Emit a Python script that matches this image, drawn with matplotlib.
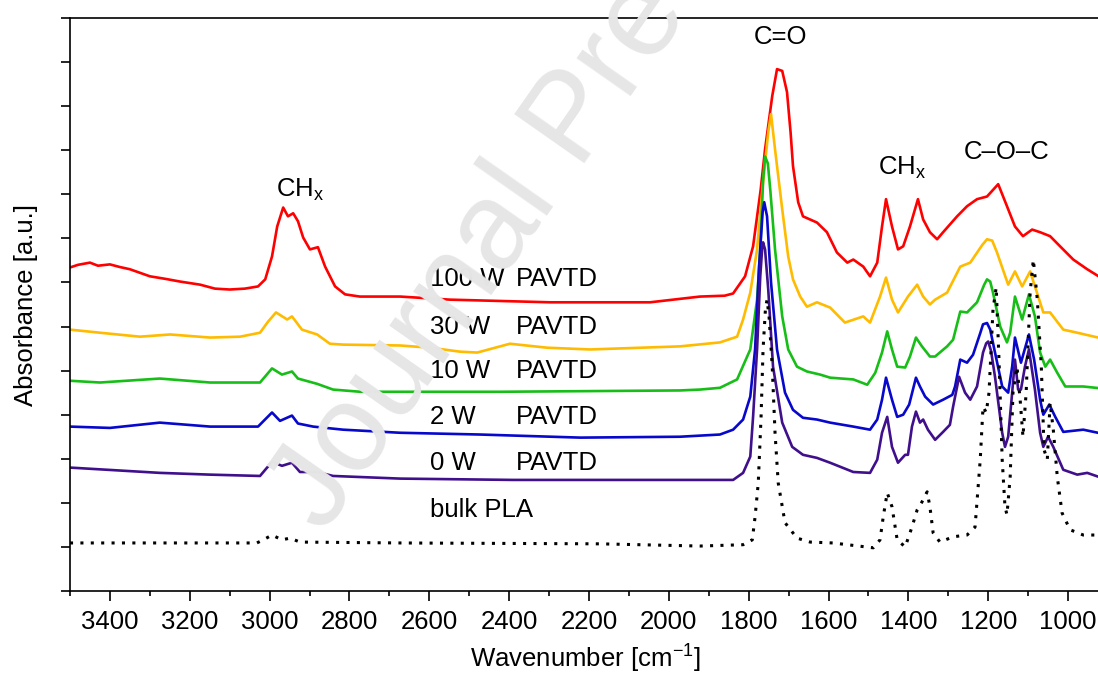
import matplotlib
matplotlib.use("Agg")
import matplotlib.pyplot as plt
from matplotlib.ticker import MultipleLocator

plt.rcParams["font.family"] = ["Liberation Sans", "DejaVu Sans"]
plt.rcParams["mathtext.fontset"] = "custom"
plt.rcParams["mathtext.rm"] = "Liberation Sans"

# ---- spectra (wavenumber in cm-1, absorbance offset in a.u.) ----
wn_100 = [3500, 3480, 3450, 3430, 3400, 3375, 3350, 3300, 3260, 3224, 3174, 3137, 3100,
          3062, 3029, 3011, 2994, 2981, 2966, 2954, 2941, 2929, 2916, 2899, 2879, 2861,
          2836, 2811, 2774, 2673, 2548, 2297, 2047, 1922, 1860, 1839, 1809, 1789, 1770,
          1759, 1741, 1729, 1716, 1704, 1695, 1689, 1676, 1664, 1629, 1604, 1579, 1553,
          1538, 1513, 1496, 1478, 1466, 1456, 1441, 1426, 1413, 1396, 1376, 1363, 1346,
          1328, 1313, 1278, 1253, 1228, 1203, 1175, 1153, 1133, 1113, 1090, 1070, 1045,
          1020, 987, 952, 920]
ab_100 = [7.34, 7.40, 7.45, 7.38, 7.41, 7.35, 7.30, 7.14, 7.08, 7.02, 6.95, 6.86, 6.84,
          6.86, 6.91, 7.07, 7.59, 8.27, 8.70, 8.50, 8.57, 8.39, 8.02, 7.75, 7.80, 7.36,
          6.91, 6.73, 6.68, 6.68, 6.61, 6.55, 6.55, 6.68, 6.70, 6.75, 7.14, 7.82, 9.10,
          10.02, 11.23, 11.84, 11.80, 11.32, 10.40, 9.64, 8.82, 8.50, 8.36, 8.14, 7.68,
          7.45, 7.52, 7.36, 7.14, 7.45, 8.27, 8.89, 8.27, 7.75, 7.82, 8.27, 8.89, 8.43,
          8.14, 7.98, 8.14, 8.50, 8.73, 8.89, 8.95, 9.23, 8.73, 8.27, 8.05, 8.20, 8.14,
          8.05, 7.82, 7.52, 7.30, 7.12]

wn_30 = [3500, 3425, 3325, 3249, 3149, 3074, 3024, 3004, 2984, 2956, 2944, 2919, 2881,
         2849, 2816, 2673, 2598, 2523, 2480, 2398, 2305, 2197, 1972, 1872, 1829, 1814,
         1796, 1779, 1764, 1751, 1744, 1734, 1716, 1701, 1689, 1671, 1654, 1629, 1596,
         1559, 1513, 1496, 1471, 1456, 1441, 1426, 1401, 1378, 1363, 1346, 1333, 1303,
         1270, 1245, 1215, 1203, 1190, 1178, 1150, 1133, 1115, 1095, 1078, 1062, 1045,
         1012, 977, 920]
ab_30 = [5.93, 5.86, 5.77, 5.82, 5.75, 5.77, 5.86, 6.11, 6.32, 6.16, 6.23, 5.93, 5.82,
         5.61, 5.59, 5.57, 5.52, 5.43, 5.41, 5.61, 5.52, 5.48, 5.55, 5.64, 5.77, 6.16,
         6.77, 7.75, 9.27, 10.41, 10.82, 10.02, 8.66, 7.59, 7.07, 6.68, 6.45, 6.55, 6.43,
         6.09, 6.23, 6.09, 6.68, 7.11, 6.61, 6.32, 6.68, 6.95, 6.68, 6.50, 6.61, 6.77,
         7.36, 7.45, 7.85, 7.98, 7.95, 7.68, 6.95, 7.25, 6.91, 7.25, 6.77, 6.32, 6.32,
         5.93, 5.86, 5.74]

wn_10 = [3500, 3425, 3275, 3149, 3024, 2994, 2969, 2944, 2929, 2881, 2841, 2773, 2423,
         1972, 1922, 1872, 1829, 1796, 1779, 1771, 1764, 1759, 1752, 1746, 1734, 1716,
         1701, 1679, 1654, 1621, 1596, 1538, 1503, 1483, 1466, 1453, 1441, 1428, 1408,
         1396, 1381, 1366, 1346, 1333, 1303, 1288, 1270, 1253, 1228, 1210, 1203, 1195,
         1188, 1170, 1153, 1145, 1133, 1115, 1098, 1083, 1070, 1057, 1045, 1027, 1007,
         962, 920]
ab_10 = [4.77, 4.73, 4.82, 4.73, 4.73, 5.05, 4.91, 4.98, 4.82, 4.70, 4.57, 4.52, 4.52,
         4.55, 4.57, 4.61, 4.80, 5.48, 6.61, 7.75, 9.30, 9.86, 9.70, 9.11, 7.75, 6.23,
         5.48, 5.09, 4.98, 4.91, 4.84, 4.80, 4.68, 4.95, 5.41, 5.89, 5.48, 5.09, 5.07,
         5.32, 5.75, 5.55, 5.32, 5.32, 5.55, 5.70, 6.34, 6.32, 6.55, 6.95, 7.07, 7.02,
         6.77, 6.00, 5.64, 5.86, 6.68, 6.16, 6.73, 6.23, 5.41, 5.09, 5.25, 4.95, 4.64,
         4.64, 4.60]

wn_2 = [3500, 3400, 3275, 3149, 3029, 2994, 2974, 2944, 2929, 2891, 2816, 2673, 2473,
        2222, 1972, 1872, 1839, 1814, 1796, 1784, 1774, 1765, 1761, 1754, 1744, 1729,
        1709, 1689, 1664, 1629, 1596, 1538, 1496, 1478, 1466, 1456, 1441, 1428, 1413,
        1398, 1381, 1371, 1358, 1338, 1313, 1290, 1283, 1270, 1253, 1238, 1220, 1213,
        1203, 1195, 1183, 1165, 1150, 1140, 1133, 1118, 1098, 1085, 1070, 1062, 1047,
        1032, 1012, 962, 920]
ab_2 = [3.73, 3.70, 3.82, 3.73, 3.73, 4.05, 3.86, 3.98, 3.80, 3.73, 3.66, 3.59, 3.55,
        3.48, 3.50, 3.55, 3.66, 3.89, 4.41, 5.48, 7.36, 8.60, 8.82, 8.50, 7.00, 5.48,
        4.50, 4.11, 3.93, 3.89, 3.82, 3.73, 3.66, 3.89, 4.34, 4.84, 4.34, 3.95, 4.00,
        4.23, 4.84, 4.64, 4.41, 4.23, 4.34, 4.45, 4.64, 5.25, 5.18, 5.36, 5.85, 6.05,
        6.08, 5.93, 5.41, 4.64, 4.50, 5.09, 5.75, 5.18, 5.82, 5.25, 4.34, 4.00, 4.23,
        3.95, 3.61, 3.66, 3.58]

wn_0 = [3500, 3275, 3149, 3024, 3011, 2994, 2969, 2944, 2924, 2881, 2841, 2673, 2390,
        1922, 1839, 1814, 1796, 1789, 1779, 1771, 1766, 1764, 1759, 1751, 1739, 1716,
        1691, 1664, 1629, 1596, 1538, 1496, 1478, 1466, 1453, 1441, 1426, 1408, 1401,
        1391, 1381, 1371, 1363, 1351, 1333, 1313, 1296, 1288, 1273, 1258, 1245, 1228,
        1213, 1205, 1200, 1193, 1183, 1165, 1158, 1150, 1140, 1133, 1125, 1118, 1108,
        1098, 1083, 1070, 1062, 1050, 1037, 1012, 977, 952, 920]
ab_0 = [2.80, 2.68, 2.64, 2.61, 2.75, 2.93, 2.84, 2.91, 2.70, 2.70, 2.61, 2.55, 2.52,
        2.52, 2.52, 2.68, 3.05, 3.95, 5.48, 7.14, 7.80, 7.91, 7.75, 6.84, 5.09, 3.82,
        3.27, 3.09, 3.02, 2.91, 2.70, 2.68, 2.98, 3.59, 3.95, 3.27, 2.91, 3.09, 3.09,
        3.73, 4.07, 3.82, 3.89, 3.66, 3.43, 3.61, 3.77, 4.18, 4.86, 4.50, 4.34, 4.64,
        5.41, 5.62, 5.66, 5.45, 4.86, 3.59, 3.27, 3.50, 4.50, 5.25, 4.57, 4.57, 5.09,
        5.48, 4.57, 3.59, 3.27, 3.50, 3.27, 2.75, 2.64, 2.68, 2.58]

wn_bulk = [3500, 3032, 3016, 2994, 2969, 2949, 2924, 2673, 2172, 1922, 1814, 1791, 1784,
           1776, 1769, 1764, 1758, 1754, 1749, 1741, 1734, 1726, 1709, 1679, 1646, 1589,
           1488, 1471, 1463, 1453, 1441, 1428, 1408, 1391, 1378, 1366, 1353, 1346, 1338,
           1321, 1288, 1253, 1233, 1220, 1213, 1205, 1198, 1188, 1180, 1173, 1165, 1158,
           1153, 1145, 1138, 1128, 1120, 1113, 1105, 1095, 1087, 1077, 1067, 1060, 1052,
           1045, 1037, 1027, 1015, 995, 962, 920]
ab_bulk = [1.09, 1.09, 1.16, 1.27, 1.16, 1.20, 1.11, 1.09, 1.07, 1.02, 1.05, 1.16, 1.68,
           2.45, 3.95, 5.48, 6.40, 6.61, 6.23, 5.09, 3.59, 2.45, 1.55, 1.20, 1.11, 1.09,
           0.98, 1.16, 1.68, 2.23, 1.91, 1.16, 1.00, 1.45, 1.84, 2.02, 2.25, 1.91, 1.32,
           1.11, 1.23, 1.27, 1.45, 2.98, 4.18, 4.05, 4.50, 6.39, 6.89, 5.25, 2.98, 1.91,
           1.73, 2.59, 4.50, 5.09, 4.34, 3.50, 4.50, 6.77, 7.52, 6.61, 5.09, 3.20, 2.98,
           4.27, 3.66, 2.59, 1.77, 1.39, 1.27, 1.27]

powers = ["100 W", "30 W", "10 W", "2 W", "0 W"]
label_y = [7.07, 6.00, 4.98, 3.95, 2.91]
series = [(wn_100, ab_100, "#ff0000"), (wn_30, ab_30, "#ffbb00"), (wn_10, ab_10, "#17be17"),
          (wn_2, ab_2, "#0808cc"), (wn_0, ab_0, "#40108c")]

fig = plt.figure(figsize=(10.98, 6.73), dpi=100)
ax = fig.add_axes([70 / 1098, 82 / 673, 1030 / 1098, 573 / 673])

for wn, ab, col in series:
    ax.plot(wn, ab, color=col, lw=1.9, solid_joinstyle="round")
ax.plot(wn_bulk, ab_bulk, color="black", lw=2.2, ls=(0, (1.0, 2.4)))

fs = 18.5
for p, y in zip(powers, label_y):
    ax.text(2598, y, p, fontsize=fs, va="center", ha="left")
    ax.text(2383, y, "PAVTD", fontsize=fs, va="center", ha="left")
ax.text(2598, 1.84, "bulk PLA", fontsize=fs, va="center", ha="left")

ax.text(1721, 12.57, "C=O", fontsize=fs, ha="center", va="center")
ax.text(2924, 9.11, "CH$_\\mathregular{x}$", fontsize=fs, ha="center", va="center")
ax.text(1416, 9.61, "CH$_\\mathregular{x}$", fontsize=fs, ha="center", va="center")
ax.text(1153, 9.95, "C\u2013O\u2013C", fontsize=fs, ha="center", va="center")

ax.set_xlim(3500, 920)
ax.set_ylim(0, 13)
ax.xaxis.set_major_locator(MultipleLocator(200))
ax.xaxis.set_minor_locator(MultipleLocator(100))
ax.yaxis.set_major_locator(MultipleLocator(1))
ax.set_yticklabels([])
ax.tick_params(axis="x", which="major", direction="out", length=7, width=1.2,
               labelsize=fs, pad=7)
ax.tick_params(axis="x", which="minor", direction="out", length=3.5, width=1.2)
ax.tick_params(axis="y", which="major", direction="out", length=6.5, width=1.2)
for s in ax.spines.values():
    s.set_linewidth(1.2)

ax.set_xlabel("Wavenumber [cm$^\\mathregular{-1}$]", fontsize=fs, labelpad=5)
ax.set_ylabel("Absorbance [a.u.]", fontsize=fs, labelpad=13)

# watermark laid over the plot
fig.text(324 / 1098, 1 - 535 / 673, "Journal Pre-proof", fontsize=90, color="#e6e6e6",
         rotation=55, rotation_mode="anchor", ha="left", va="baseline", zorder=10)

fig.savefig("out.png", dpi=100)
